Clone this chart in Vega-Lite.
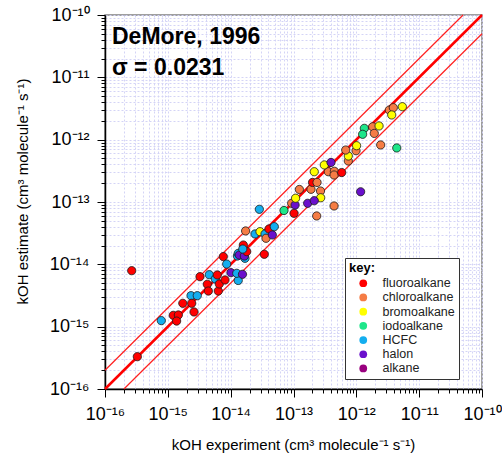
{
  "$schema": "https://vega.github.io/schema/vega-lite/v6.json",
  "width": 377,
  "height": 374,
  "autosize": {"type": "none"},
  "padding": {"left": 105, "top": 15, "right": 20, "bottom": 68},
  "background": "white",
  "title": {
    "text": "DeMore, 1996",
    "subtitle": "σ = 0.0231",
    "anchor": "start",
    "frame": "group",
    "offset": -74,
    "dx": 7,
    "font": "Liberation Sans",
    "fontSize": 23,
    "fontWeight": "bold",
    "color": "black",
    "subtitleFont": "Liberation Sans",
    "subtitleFontSize": 23,
    "subtitleFontWeight": "bold",
    "subtitleColor": "black",
    "subtitlePadding": 8
  },
  "datasets": {
    "upper": [
      {"x": 1e-16, "y": 2e-16, "x2": 5e-11, "y2": 1e-10, "line": "upper"}
    ],
    "lower": [
      {"x": 2e-16, "y": 1e-16, "x2": 1e-10, "y2": 5e-11, "line": "lower"}
    ],
    "unity": [
      {"x": 1e-16, "y": 1e-16, "x2": 1e-10, "y2": 1e-10, "line": "1:1"}
    ],
    "points": [
      {"exp": 2.66e-16, "est": 7.91e-15, "class": "fluoroalkane"},
      {"exp": 3.27e-16, "est": 3.30e-16, "class": "fluoroalkane"},
      {"exp": 7.87e-16, "est": 1.25e-15, "class": "HCFC"},
      {"exp": 1.22e-15, "est": 1.52e-15, "class": "fluoroalkane"},
      {"exp": 1.47e-15, "est": 1.54e-15, "class": "fluoroalkane"},
      {"exp": 1.38e-15, "est": 1.23e-15, "class": "fluoroalkane"},
      {"exp": 1.73e-15, "est": 2.37e-15, "class": "fluoroalkane"},
      {"exp": 2.34e-15, "est": 3.14e-15, "class": "HCFC"},
      {"exp": 2.94e-15, "est": 3.14e-15, "class": "HCFC"},
      {"exp": 2.40e-15, "est": 2.37e-15, "class": "fluoroalkane"},
      {"exp": 2.61e-15, "est": 1.72e-15, "class": "fluoroalkane"},
      {"exp": 3.25e-15, "est": 6.34e-15, "class": "fluoroalkane"},
      {"exp": 4.25e-15, "est": 4.79e-15, "class": "fluoroalkane"},
      {"exp": 4.41e-15, "est": 3.73e-15, "class": "fluoroalkane"},
      {"exp": 4.57e-15, "est": 6.82e-15, "class": "HCFC"},
      {"exp": 5.69e-15, "est": 5.82e-15, "class": "HCFC"},
      {"exp": 6.35e-15, "est": 3.73e-15, "class": "fluoroalkane"},
      {"exp": 6.59e-15, "est": 4.84e-15, "class": "fluoroalkane"},
      {"exp": 6.12e-15, "est": 6.75e-15, "class": "fluoroalkane"},
      {"exp": 8.13e-15, "est": 5.61e-15, "class": "fluoroalkane"},
      {"exp": 7.64e-15, "est": 1.33e-14, "class": "fluoroalkane"},
      {"exp": 8.65e-15, "est": 1.01e-14, "class": "HCFC"},
      {"exp": 1.01e-14, "est": 7.35e-15, "class": "halon"},
      {"exp": 1.32e-14, "est": 5.51e-15, "class": "HCFC"},
      {"exp": 1.25e-14, "est": 7.18e-15, "class": "HCFC"},
      {"exp": 1.54e-14, "est": 6.92e-15, "class": "halon"},
      {"exp": 1.28e-14, "est": 1.36e-14, "class": "HCFC"},
      {"exp": 1.32e-14, "est": 1.50e-14, "class": "HCFC"},
      {"exp": 1.37e-14, "est": 1.41e-14, "class": "halon"},
      {"exp": 1.69e-14, "est": 1.25e-14, "class": "HCFC"},
      {"exp": 1.65e-14, "est": 1.36e-14, "class": "halon"},
      {"exp": 1.59e-14, "est": 2.04e-14, "class": "fluoroalkane"},
      {"exp": 1.80e-14, "est": 1.60e-14, "class": "fluoroalkane"},
      {"exp": 1.56e-14, "est": 1.76e-14, "class": "HCFC"},
      {"exp": 1.73e-14, "est": 3.43e-14, "class": "chloroalkane"},
      {"exp": 2.44e-14, "est": 3.07e-14, "class": "HCFC"},
      {"exp": 2.93e-14, "est": 3.34e-14, "class": "bromoalkane"},
      {"exp": 3.52e-14, "est": 3.07e-14, "class": "HCFC"},
      {"exp": 3.65e-14, "est": 2.62e-14, "class": "chloroalkane"},
      {"exp": 3.43e-14, "est": 1.45e-14, "class": "fluoroalkane"},
      {"exp": 4.07e-14, "est": 3.69e-14, "class": "fluoroalkane"},
      {"exp": 4.60e-14, "est": 2.96e-14, "class": "halon"},
      {"exp": 4.95e-14, "est": 4.02e-14, "class": "HCFC"},
      {"exp": 2.86e-14, "est": 7.64e-14, "class": "HCFC"},
      {"exp": 7.06e-14, "est": 7.31e-14, "class": "iodoalkane"},
      {"exp": 9.35e-14, "est": 9.53e-14, "class": "chloroalkane"},
      {"exp": 1.02e-13, "est": 6.59e-14, "class": "fluoroalkane"},
      {"exp": 1.06e-13, "est": 8.95e-14, "class": "halon"},
      {"exp": 1.08e-13, "est": 1.15e-13, "class": "bromoalkane"},
      {"exp": 1.24e-13, "est": 1.59e-13, "class": "chloroalkane"},
      {"exp": 1.68e-13, "est": 9.53e-14, "class": "halon"},
      {"exp": 1.90e-13, "est": 1.60e-13, "class": "chloroalkane"},
      {"exp": 2.01e-13, "est": 2.06e-13, "class": "fluoroalkane"},
      {"exp": 2.37e-13, "est": 2.06e-13, "class": "chloroalkane"},
      {"exp": 2.69e-13, "est": 1.50e-13, "class": "chloroalkane"},
      {"exp": 2.71e-13, "est": 1.17e-13, "class": "bromoalkane"},
      {"exp": 2.14e-13, "est": 1.05e-13, "class": "halon"},
      {"exp": 2.34e-13, "est": 5.97e-14, "class": "chloroalkane"},
      {"exp": 4.42e-13, "est": 8.63e-14, "class": "chloroalkane"},
      {"exp": 2.14e-13, "est": 3.06e-13, "class": "bromoalkane"},
      {"exp": 3.58e-13, "est": 3.06e-13, "class": "chloroalkane"},
      {"exp": 4.47e-13, "est": 3.11e-13, "class": "chloroalkane"},
      {"exp": 4.42e-13, "est": 2.71e-13, "class": "chloroalkane"},
      {"exp": 5.85e-13, "est": 2.97e-13, "class": "fluoroalkane"},
      {"exp": 3.09e-13, "est": 3.93e-13, "class": "bromoalkane"},
      {"exp": 3.95e-13, "est": 4.31e-13, "class": "halon"},
      {"exp": 7.45e-13, "est": 4.55e-13, "class": "chloroalkane"},
      {"exp": 7.45e-13, "est": 5.47e-13, "class": "bromoalkane"},
      {"exp": 6.78e-13, "est": 6.82e-13, "class": "chloroalkane"},
      {"exp": 9.89e-13, "est": 6.65e-13, "class": "chloroalkane"},
      {"exp": 1.01e-12, "est": 8.00e-13, "class": "bromoalkane"},
      {"exp": 1.17e-12, "est": 1.46e-13, "class": "halon"},
      {"exp": 1.34e-12, "est": 1.52e-12, "class": "iodoalkane"},
      {"exp": 1.26e-12, "est": 1.22e-12, "class": "iodoalkane"},
      {"exp": 1.82e-12, "est": 1.61e-12, "class": "chloroalkane"},
      {"exp": 1.93e-12, "est": 1.26e-12, "class": "chloroalkane"},
      {"exp": 2.30e-12, "est": 1.66e-12, "class": "bromoalkane"},
      {"exp": 2.44e-12, "est": 8.22e-13, "class": "chloroalkane"},
      {"exp": 4.40e-12, "est": 7.36e-13, "class": "iodoalkane"},
      {"exp": 3.35e-12, "est": 2.99e-12, "class": "chloroalkane"},
      {"exp": 3.88e-12, "est": 3.26e-12, "class": "chloroalkane"},
      {"exp": 3.66e-12, "est": 2.49e-12, "class": "bromoalkane"},
      {"exp": 5.40e-12, "est": 3.38e-12, "class": "bromoalkane"}
    ]
  },
  "layer": [
    {
      "data": {"name": "upper"},
      "mark": {"type": "rule", "stroke": "#FF2020", "strokeWidth": 1.2},
      "encoding": {
        "x": {"field": "x", "type": "quantitative"},
        "y": {"field": "y", "type": "quantitative"},
        "x2": {"field": "x2"},
        "y2": {"field": "y2"}
      }
    },
    {
      "data": {"name": "lower"},
      "mark": {"type": "rule", "stroke": "#FF2020", "strokeWidth": 1.2},
      "encoding": {
        "x": {"field": "x", "type": "quantitative"},
        "y": {"field": "y", "type": "quantitative"},
        "x2": {"field": "x2"},
        "y2": {"field": "y2"}
      }
    },
    {
      "data": {"name": "unity"},
      "mark": {"type": "rule", "stroke": "#FF0000", "strokeWidth": 2.5},
      "encoding": {
        "x": {"field": "x", "type": "quantitative"},
        "y": {"field": "y", "type": "quantitative"},
        "x2": {"field": "x2"},
        "y2": {"field": "y2"}
      }
    },
    {
      "data": {"name": "points"},
      "mark": {"type": "point", "shape": "circle", "filled": true, "size": 68, "stroke": "#1a1a1a", "strokeWidth": 0.8, "opacity": 1},
      "encoding": {
        "x": {
          "field": "exp", "type": "quantitative",
          "scale": {"type": "log", "domain": [1e-16, 1e-10], "nice": false},
          "axis": {
            "title": "kOH experiment (cm³ molecule⁻¹ s⁻¹)",
            "values": [1e-16,2e-16,3e-16,4e-16,5e-16,6e-16,7e-16,8e-16,9e-16,1e-15,2e-15,3e-15,4e-15,5e-15,6e-15,7e-15,8e-15,9e-15,1e-14,2e-14,3e-14,4e-14,5e-14,6e-14,7e-14,8e-14,9e-14,1e-13,2e-13,3e-13,4e-13,5e-13,6e-13,7e-13,8e-13,9e-13,1e-12,2e-12,3e-12,4e-12,5e-12,6e-12,7e-12,8e-12,9e-12,1e-11,2e-11,3e-11,4e-11,5e-11,6e-11,7e-11,8e-11,9e-11,1e-10],
            "labelExpr": "abs(log(datum.value)/LN10 - round(log(datum.value)/LN10)) < 0.001 ? '10⁻¹' + substring('⁰¹²³⁴⁵⁶', -round(log(datum.value)/LN10) - 10, -round(log(datum.value)/LN10) - 9) : ''",
            "tickSize": {"condition": {"test": "abs(log(datum.value)/LN10 - round(log(datum.value)/LN10)) < 0.001", "value": 8}, "value": 4},
            "labelPadding": 8,
            "labelFlush": false,
            "labelOverlap": false,
            "labelBound": false,
            "titleX": 188,
            "titleY": 60,
            "titleAlign": "center",
            "titleBaseline": "alphabetic"
          }
        },
        "y": {
          "field": "est", "type": "quantitative",
          "scale": {"type": "log", "domain": [1e-16, 1e-10], "nice": false},
          "axis": {
            "title": "kOH estimate (cm³ molecule⁻¹ s⁻¹)",
            "values": [1e-16,2e-16,3e-16,4e-16,5e-16,6e-16,7e-16,8e-16,9e-16,1e-15,2e-15,3e-15,4e-15,5e-15,6e-15,7e-15,8e-15,9e-15,1e-14,2e-14,3e-14,4e-14,5e-14,6e-14,7e-14,8e-14,9e-14,1e-13,2e-13,3e-13,4e-13,5e-13,6e-13,7e-13,8e-13,9e-13,1e-12,2e-12,3e-12,4e-12,5e-12,6e-12,7e-12,8e-12,9e-12,1e-11,2e-11,3e-11,4e-11,5e-11,6e-11,7e-11,8e-11,9e-11,1e-10],
            "labelExpr": "abs(log(datum.value)/LN10 - round(log(datum.value)/LN10)) < 0.001 ? '10⁻¹' + substring('⁰¹²³⁴⁵⁶', -round(log(datum.value)/LN10) - 10, -round(log(datum.value)/LN10) - 9) : ''",
            "tickSize": {"condition": {"test": "abs(log(datum.value)/LN10 - round(log(datum.value)/LN10)) < 0.001", "value": 8}, "value": 4},
            "labelPadding": 8,
            "labelFlush": false,
            "labelOverlap": false,
            "labelBound": false,
            "titleX": -78,
            "titleY": 176,
            "titleAngle": -90,
            "titleAlign": "center",
            "titleBaseline": "alphabetic"
          }
        },
        "fill": {
          "field": "class", "type": "nominal",
          "scale": {
            "domain": ["fluoroalkane", "chloroalkane", "bromoalkane", "iodoalkane", "HCFC", "halon", "alkane"],
            "range": ["#FF0000", "#F57C45", "#FFFF00", "#1EE68A", "#14AEEF", "#6A10CC", "#99007F"]
          },
          "legend": {
            "title": "key:",
            "orient": "none",
            "legendX": 240,
            "legendY": 243,
            "strokeColor": "#333333",
            "fillColor": "white",
            "padding": 4,
            "titleFont": "Liberation Sans",
            "titleFontSize": 13,
            "titleFontWeight": "bold",
            "titleColor": "black",
            "titlePadding": 2,
            "labelFont": "Liberation Sans",
            "labelFontSize": 12.5,
            "labelColor": "#222222",
            "labelOffset": 13,
            "symbolOffset": 8,
            "symbolType": "circle",
            "symbolSize": 60,
            "symbolStrokeWidth": 0,
            "rowPadding": 1.2
          }
        }
      }
    }
  ],
  "config": {
    "view": {"stroke": "#808080", "strokeWidth": 1.5},
    "axis": {
      "domainColor": "black",
      "domainWidth": 1.5,
      "tickColor": "black",
      "tickWidth": 1,
      "labelColor": "black",
      "labelFont": "Liberation Sans",
      "labelFontSize": 18,
      "titleFont": "Liberation Sans",
      "titleFontSize": 15,
      "titleFontWeight": "normal",
      "titleColor": "black",
      "grid": true,
      "gridColor": "#d4d4f6",
      "gridDash": [2, 2],
      "gridWidth": 1
    }
  }
}
